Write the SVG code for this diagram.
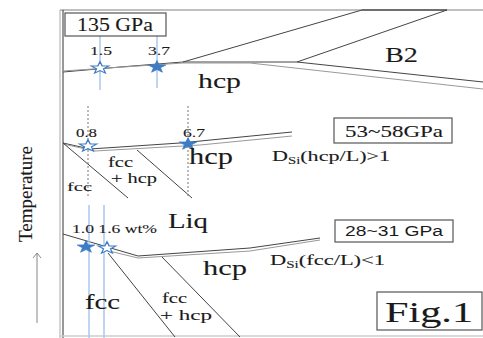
<svg xmlns="http://www.w3.org/2000/svg" width="483" height="338" viewBox="0 0 483 338">
<style>
.ln{fill:none;stroke:#444;stroke-width:1}
.lg{fill:none;stroke:#999;stroke-width:1}
.bl{fill:none;stroke:#a8c8ec;stroke-width:1.5}
.ds{fill:none;stroke:#777;stroke-width:1;stroke-dasharray:2,2}
text{fill:#1a1a1a}
.t{font-family:"Liberation Serif","Times New Roman",serif;stroke:#1a1a1a;stroke-width:0.1}
.s{font-family:"Liberation Sans",Arial,sans-serif}
.bx{fill:#fff;stroke:#555;stroke-width:1.2}
.sf{fill:#3d7cc4;stroke:#3d7cc4;stroke-width:0.8}
.sh{fill:#fff;stroke:#3d7cc4;stroke-width:1.2}
</style>
<defs>
<path id="star" d="M0,-8 L1.88,-2.59 L7.61,-2.47 L3.04,0.99 L4.70,6.47 L0,3.2 L-4.70,6.47 L-3.04,0.99 L-7.61,-2.47 L-1.88,-2.59 Z" transform="scale(1.15,0.8)"/>
</defs>
<rect width="483" height="338" fill="#fff"/>
<g id="frame">
<line x1="60" y1="10" x2="483" y2="10" stroke="#aaa" stroke-width="1.5"/>
<line x1="362" y1="10" x2="447" y2="10" stroke="#555" stroke-width="1.5"/>
<line x1="60" y1="10" x2="60" y2="338" stroke="#aaa" stroke-width="1"/>
<line x1="63" y1="10" x2="63" y2="338" stroke="#333" stroke-width="1"/>
<line x1="60" y1="336" x2="483" y2="336" stroke="#ccc" stroke-width="1.5"/>
</g>
<g id="axis">
<text class="t" font-size="18" transform="translate(32,194) rotate(-90)" text-anchor="middle" textLength="96" lengthAdjust="spacingAndGlyphs">Temperature</text>
<line x1="37" y1="323" x2="37" y2="253" stroke="#888" stroke-width="1"/>
<polyline points="33,258 37,253 41,258" fill="none" stroke="#888" stroke-width="1"/>
</g>
<g id="connectors">
<path class="ln" d="M63,72 L120,67 L183,62 L250,62 L297,62 L483,82"/>
<path class="lg" d="M63,71 L183,63 L250,63 L483,89"/>
<path class="ln" d="M183,62 L362,10"/>
<path class="ln" d="M297,62 L447,10"/>
<path class="ln" d="M63,143 L90,149 L180,143 L292,132"/>
<path class="lg" d="M63,144 L95,151 L200,145 L292,136"/>
<path class="ln" d="M63,143 L128,198"/>
<path class="ln" d="M137,150 L192,198"/>
<path class="ln" d="M63,234 L138,256 L250,248 L320,238"/>
<path class="lg" d="M105,250 L138,258 L250,251 L320,240"/>
<path class="ln" d="M108,253 L175,337"/>
<path class="ln" d="M162,257 L240,337"/>
</g>
<g id="markers">
<line class="bl" x1="100" y1="30" x2="100" y2="90"/>
<line class="bl" x1="157" y1="30" x2="157" y2="88"/>
<line class="ds" x1="88" y1="106" x2="88" y2="198"/>
<line class="ds" x1="188" y1="106" x2="188" y2="198"/>
<line class="bl" x1="89" y1="205" x2="89" y2="338"/>
<line class="bl" x1="104" y1="205" x2="104" y2="338"/>
<use href="#star" class="sh" x="100" y="68"/>
<use href="#star" class="sf" x="157" y="67"/>
<use href="#star" class="sh" x="88" y="146"/>
<use href="#star" class="sf" x="188" y="144"/>
<use href="#star" class="sf" x="86" y="247"/>
<use href="#star" class="sh" x="107" y="248"/>
</g>
<g id="p135">
<rect class="bx" x="65" y="13" width="101" height="23"/>
<text class="t" font-size="18" x="77" y="31" textLength="76" lengthAdjust="spacingAndGlyphs">135 GPa</text>
<text class="t" font-size="12" x="90" y="55" textLength="22" lengthAdjust="spacingAndGlyphs">1.5</text>
<text class="t" font-size="12" x="148" y="55" textLength="22" lengthAdjust="spacingAndGlyphs">3.7</text>
<text class="t" font-size="22" x="198" y="88" textLength="43" lengthAdjust="spacingAndGlyphs">hcp</text>
<text class="t" font-size="21" x="385" y="62" textLength="33" lengthAdjust="spacingAndGlyphs">B2</text>
</g>
<g id="p55">
<rect class="bx" x="334" y="118" width="118" height="25"/>
<text class="t" font-size="16" x="345" y="137" textLength="98" lengthAdjust="spacingAndGlyphs">53~58GPa</text>
<text class="t" font-size="12" x="76" y="137" textLength="21" lengthAdjust="spacingAndGlyphs">0.8</text>
<text class="t" font-size="12" x="183" y="137" textLength="22" lengthAdjust="spacingAndGlyphs">6.7</text>
<text class="t" font-size="13" x="67" y="191" textLength="25" lengthAdjust="spacingAndGlyphs">fcc</text>
<text class="t" font-size="15" x="108" y="167" textLength="25" lengthAdjust="spacingAndGlyphs">fcc</text>
<text class="t" font-size="15" x="111" y="183" textLength="46" lengthAdjust="spacingAndGlyphs">+ hcp</text>
<text class="t" font-size="23" x="189" y="164" textLength="44" lengthAdjust="spacingAndGlyphs">hcp</text>
<text class="t" font-size="15" x="272" y="161" textLength="118" lengthAdjust="spacingAndGlyphs">D<tspan font-size="10" dy="3">Si</tspan><tspan dy="-3">(hcp/L)&gt;1</tspan></text>
</g>
<g id="p30">
<rect class="bx" x="335" y="220" width="118" height="22"/>
<text class="s" font-size="14" x="345" y="236" textLength="98" lengthAdjust="spacingAndGlyphs">28~31 GPa</text>
<text class="t" font-size="13" x="72" y="233" textLength="85" lengthAdjust="spacingAndGlyphs">1.0 1.6 wt%</text>
<text class="t" font-size="20" x="168" y="228" textLength="40" lengthAdjust="spacingAndGlyphs">Liq</text>
<text class="t" font-size="22" x="203" y="275" textLength="44" lengthAdjust="spacingAndGlyphs">hcp</text>
<text class="t" font-size="21" x="85" y="309" textLength="35" lengthAdjust="spacingAndGlyphs">fcc</text>
<text class="t" font-size="14" x="162" y="303" textLength="25" lengthAdjust="spacingAndGlyphs">fcc</text>
<text class="t" font-size="15" x="160" y="320" textLength="52" lengthAdjust="spacingAndGlyphs">+ hcp</text>
<text class="t" font-size="15" x="270" y="265" textLength="115" lengthAdjust="spacingAndGlyphs">D<tspan font-size="10" dy="3">Si</tspan><tspan dy="-3">(fcc/L)&lt;1</tspan></text>
</g>
<g id="fig">
<rect class="bx" x="377" y="292" width="105" height="38"/>
<text class="t" font-size="29" x="385" y="322" textLength="88" lengthAdjust="spacingAndGlyphs">Fig.1</text>
</g>
</svg>
